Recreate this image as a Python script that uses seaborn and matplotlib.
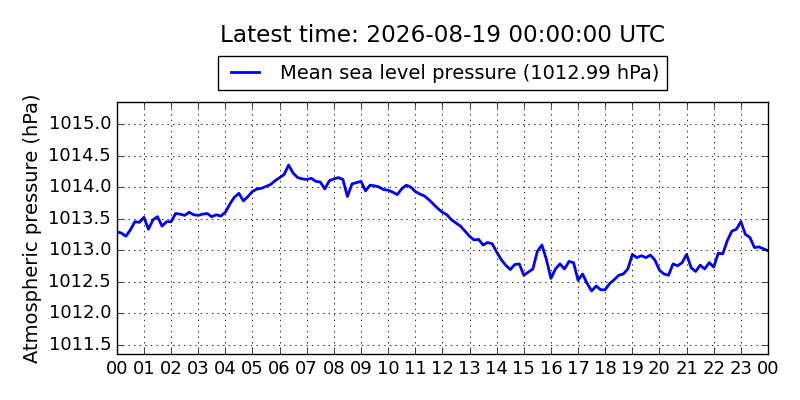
import numpy as np
import pandas as pd
import matplotlib
matplotlib.use('Agg')
import matplotlib.pyplot as plt
import matplotlib.dates as mdates
import seaborn as sns

# 10-minute mean sea level pressure readings (hPa), 2026-08-18 00:00 .. 2026-08-19 00:00 UTC
pressure = [
    1013.29, 1013.27, 1013.22, 1013.32, 1013.45, 1013.44,
    1013.52, 1013.33, 1013.48, 1013.53, 1013.38, 1013.45,
    1013.45, 1013.58, 1013.57, 1013.55, 1013.60, 1013.56,
    1013.55, 1013.57, 1013.58, 1013.53, 1013.56, 1013.54,
    1013.60, 1013.73, 1013.84, 1013.90, 1013.78, 1013.85,
    1013.93, 1013.97, 1013.98, 1014.01, 1014.04, 1014.10,
    1014.15, 1014.20, 1014.35, 1014.22, 1014.15, 1014.13,
    1014.12, 1014.14, 1014.09, 1014.08, 1013.97, 1014.10,
    1014.13, 1014.15, 1014.12, 1013.85, 1014.05, 1014.07,
    1014.09, 1013.94, 1014.03, 1014.02, 1014.00, 1013.96,
    1013.95, 1013.92, 1013.88, 1013.97, 1014.03, 1014.00,
    1013.93, 1013.89, 1013.86, 1013.80, 1013.73, 1013.66,
    1013.60, 1013.56, 1013.48, 1013.43, 1013.38, 1013.30,
    1013.22, 1013.16, 1013.17, 1013.08, 1013.12, 1013.10,
    1012.97, 1012.85, 1012.76, 1012.69, 1012.77, 1012.78,
    1012.60, 1012.65, 1012.70, 1012.98, 1013.08, 1012.85,
    1012.55, 1012.70, 1012.78, 1012.70, 1012.82, 1012.80,
    1012.52, 1012.62, 1012.47, 1012.35, 1012.43, 1012.37,
    1012.37, 1012.47, 1012.53, 1012.60, 1012.62, 1012.70,
    1012.93, 1012.88, 1012.91, 1012.88, 1012.92, 1012.84,
    1012.68, 1012.62, 1012.60, 1012.78, 1012.75, 1012.80,
    1012.93, 1012.72, 1012.66, 1012.76, 1012.70, 1012.80,
    1012.73, 1012.95, 1012.94, 1013.15, 1013.30, 1013.33,
    1013.45, 1013.25, 1013.20, 1013.04, 1013.05, 1013.02,
    1012.99,
]
start = '2026-08-18 00:00'
end = '2026-08-19 00:00'

times = pd.date_range(start, end, freq='10min')
df = pd.DataFrame({'time': times, 'pressure': pressure})

plt.style.use('classic')
plt.rcParams['figure.facecolor'] = 'white'
plt.rcParams['savefig.facecolor'] = 'white'

fig = plt.figure(figsize=(8, 4), dpi=100)
ax = fig.add_axes([0.146, 0.115, 0.814, 0.63])

label = 'Mean sea level pressure (%.2f hPa)' % pressure[-1]
sns.lineplot(data=df, x='time', y='pressure', ax=ax, color='blue', linewidth=2, label=label)

ax.set_xlim(pd.Timestamp(start), pd.Timestamp(end))
ax.set_ylim(min(pressure) - 1, max(pressure) + 1)
ax.xaxis.set_major_locator(mdates.HourLocator())
ax.xaxis.set_major_formatter(mdates.DateFormatter('%H'))
ax.yaxis.get_major_formatter().set_useOffset(False)
ax.tick_params(labelsize=13)
ax.grid(True, linestyle=':', color='black', linewidth=0.6)

ax.set_xlabel('')
ax.set_ylabel('Atmospheric pressure (hPa)', fontsize=14)
ax.set_title('Latest time: %s:00 UTC' % end, fontsize=16.7, pad=43)
ax.legend(loc='lower center', bbox_to_anchor=(0.5, 1.0), fontsize=14, borderaxespad=0.6)

fig.savefig('out.png', dpi=100)
